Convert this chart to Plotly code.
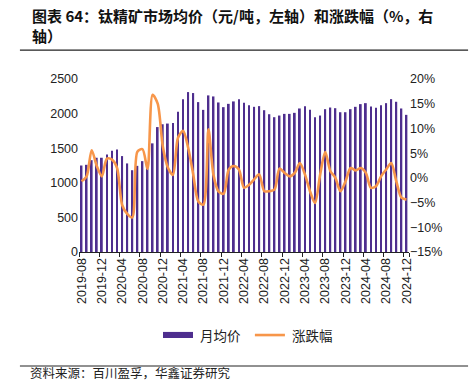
import plotly.graph_objects as go
import pandas as pd

months = pd.period_range("2019-08", "2024-12", freq="M").strftime("%Y-%m").tolist()

price = [1250, 1260, 1327, 1362, 1362, 1410, 1463, 1483, 1386, 1280,
         1182, 1245, 1313, 1210, 1570, 1805, 1846, 1856, 1865, 2025,
         2209, 2311, 2297, 2166, 2054, 2263, 2248, 2161, 2093, 2141,
         2176, 2209, 2157, 2122, 2098, 2108, 2049, 1991, 1948, 1972,
         1996, 1996, 2011, 2074, 2108, 2054, 1948, 1972, 2064, 2088,
         2078, 2020, 2020, 2064, 2098, 2137, 2151, 2103, 2083, 2122,
         2151, 2209, 2171, 2074, 1982]

change = [-0.7, 0.3, 5.6, 2.4, 0.3, 3.9, 3.7, 2.0, -5.5, -7.3,
          -8.0, 5.3, 5.8, 1.8, 16.8, 15.0, 6.4, 2.1, 0.6, 8.1,
          9.5, 6.1, 0.7, -4.8, -5.4, 9.8, 0.5, -2.8, -3.2, 1.7,
          2.4, 1.7, -2.0, -1.4, -0.3, 0.7, -2.7, -2.7, -2.4, 1.9,
          1.0, 0.3, 1.0, 3.0, 0.7, -2.7, -5.1, 0.7, 5.2, 1.4,
          0.0, -2.7, -0.7, 2.0, 1.5, 2.0, 1.0, -2.0, -1.7, 0.3,
          1.7, 3.0, -0.7, -4.0, -4.4]

tick_labels = months[::4]
legend_names = ["月均价", "涨跌幅"]

bar_color = "#4E2E8E"
line_color = "#F7964A"
num_font = "Liberation Sans, Arial, sans-serif"
cjk_font = "Noto Sans CJK SC, sans-serif"

fig = go.Figure()
fig.add_trace(go.Bar(x=months, y=price, name=legend_names[0],
                     marker=dict(color=bar_color, line=dict(width=0))))
fig.add_trace(go.Scatter(x=months, y=change, name=legend_names[1], yaxis="y2",
                         mode="lines", line=dict(color=line_color, width=2.6, shape="spline", smoothing=0.8)))

fig.update_layout(
    width=476, height=381,
    margin=dict(l=79, r=67, t=79, b=129),
    paper_bgcolor="white", plot_bgcolor="white",
    bargap=0.64,
    showlegend=False,
    xaxis=dict(type="category", tickmode="array", tickvals=tick_labels, ticktext=tick_labels,
               tickangle=-90, tickfont=dict(family=num_font, size=12.5, color="#222"),
               showline=True, linecolor="#222", linewidth=1.2, ticks="outside", ticklen=4,
               tickcolor="#222", tickson="boundaries", showgrid=False,
               range=[-0.5, len(months) - 0.5]),
    yaxis=dict(range=[0, 2500], dtick=500, showgrid=False, zeroline=False, showline=False,
               tickfont=dict(family=num_font, size=12.5, color="#222"), ticks=""),
    yaxis2=dict(overlaying="y", side="right", range=[-15, 20], dtick=5, ticksuffix="%",
                showgrid=False, zeroline=False, showline=False,
                tickfont=dict(family=num_font, size=12.5, color="#222"), ticks=""),
)

fig.add_annotation(text="<b>图表 64：钛精矿市场均价（元/吨，左轴）和涨跌幅（%，右</b><br><b>轴）</b>",
                   xref="paper", yref="paper", x=-0.1485, y=1.44, xanchor="left", yanchor="top",
                   align="left", showarrow=False,
                   font=dict(family=cjk_font, size=15, color="#111"))
fig.add_annotation(text="资料来源：百川盈孚，华鑫证券研究",
                   xref="paper", yref="paper", x=-0.1545, y=-0.697, xanchor="left", yanchor="middle",
                   align="left", showarrow=False,
                   font=dict(family=cjk_font, size=12.5, color="#222"))

# custom legend
fig.add_shape(type="rect", xref="paper", yref="paper", x0=0.2545, x1=0.3455, y0=-0.462, y1=-0.497,
              fillcolor=bar_color, line=dict(width=0))
fig.add_annotation(text=legend_names[0], xref="paper", yref="paper", x=0.3606, y=-0.48,
                   xanchor="left", yanchor="middle", showarrow=False,
                   font=dict(family=cjk_font, size=13.5, color="#222"))
fig.add_shape(type="line", xref="paper", yref="paper", x0=0.533, x1=0.624, y0=-0.48, y1=-0.48,
              line=dict(color=line_color, width=2.6))
fig.add_annotation(text=legend_names[1], xref="paper", yref="paper", x=0.639, y=-0.48,
                   xanchor="left", yanchor="middle", showarrow=False,
                   font=dict(family=cjk_font, size=13.5, color="#222"))

# title and source rules
fig.add_shape(type="line", xref="paper", yref="paper", x0=-0.179, x1=1.179, y0=1.167, y1=1.167,
              line=dict(color="#222", width=1.2))
fig.add_shape(type="line", xref="paper", yref="paper", x0=-0.179, x1=1.179, y0=-0.659, y1=-0.659,
              line=dict(color="#222", width=1))

fig.write_html("out.html", config={"displayModeBar": False},
               post_script="document.body.style.margin='0';")
